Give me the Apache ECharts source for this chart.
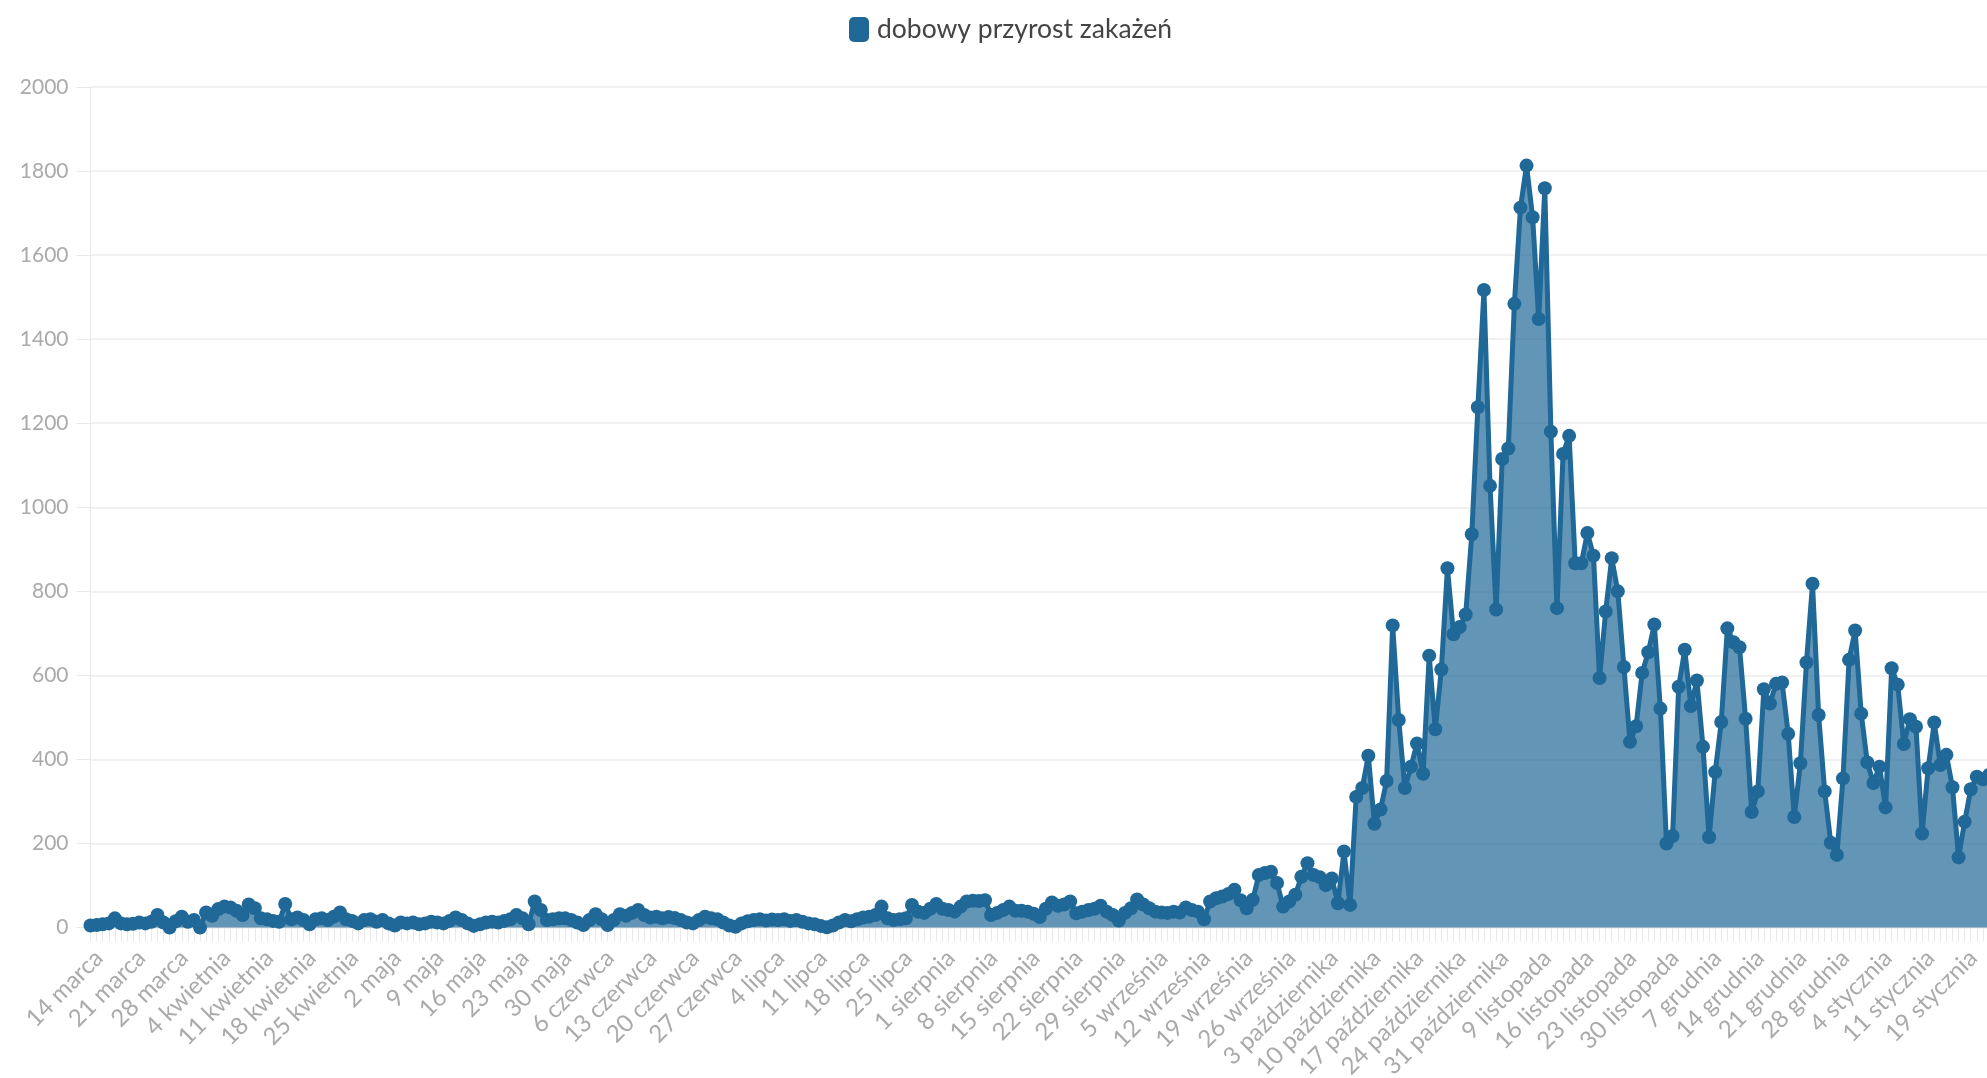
<!DOCTYPE html>
<html>
<head>
<meta charset="utf-8">
<title>dobowy przyrost zakażeń</title>
<script src="https://cdn.jsdelivr.net/npm/echarts@6/dist/echarts.min.js"></script>
<style>
    html, body { margin: 0; padding: 0; background: #fff; }
    #chart { width: 1987px; height: 1078px; }
</style>
</head>
<body>
<div id="chart"></div>
<script>
    // kolejne dni: [miesiąc, od dnia, do dnia] - w danych brakuje 1-2 listopada i 17 stycznia
    const daySegments = [
        ['marca', 14, 31],
        ['kwietnia', 1, 30],
        ['maja', 1, 31],
        ['czerwca', 1, 30],
        ['lipca', 1, 31],
        ['sierpnia', 1, 31],
        ['września', 1, 30],
        ['października', 1, 31],
        ['listopada', 3, 30],
        ['grudnia', 1, 31],
        ['stycznia', 1, 16],
        ['stycznia', 18, 23]
    ]
    const seriesName = 'dobowy przyrost zakażeń'
    // marzec - maj
    const casesSpring = [
        5, 6, 8, 10, 22, 10, 8, 9, 12, 10,
        14, 30, 12, 0, 15, 26, 14, 18, 0, 36,
        28, 44, 50, 48, 40, 30, 55, 46, 22, 20,
        16, 14, 56, 20, 24, 18, 8, 20, 22, 18,
        26, 36, 20, 16, 10, 18, 20, 14, 18, 10,
        5, 12, 10, 12, 8, 10, 14, 12, 10, 16,
        24, 18, 10, 4, 8, 12, 14, 12, 16, 20,
        30, 22, 8, 62, 42, 18
    ]
    // czerwiec - połowa sierpnia
    const casesSummer = [
        20, 22, 22, 18, 12, 6, 18, 32, 20, 6,
        18, 32, 28, 35, 42, 30, 24, 26, 22, 25,
        23, 18, 12, 10, 18, 26, 22, 20, 12, 5,
        2, 10, 15, 18, 20, 17, 19, 18, 20, 16,
        18, 14, 10, 8, 4, 1, 5, 12, 18, 15,
        20, 24, 26, 30, 50, 22, 18, 20, 22, 54,
        38, 35, 45, 56, 45, 42, 38, 50, 62, 64,
        63, 65, 30, 35, 42, 50, 40
    ]
    // połowa sierpnia - początek października
    const casesAutumn = [
        40, 38, 33, 25, 45, 60, 52, 55, 62, 34,
        38, 42, 45, 52, 38, 30, 17, 35, 46, 67,
        55, 46, 38, 36, 35, 38, 36, 48, 42, 38,
        20, 62, 70, 74, 80, 90, 65, 46, 66, 125,
        130, 133, 106, 50, 62, 78, 121, 153, 125, 120,
        101, 117, 58, 181, 54, 311
    ]
    // druga fala: październik - listopad
    const casesWave = [
        332, 409, 247, 281, 349, 719, 494, 332, 383, 438,
        366, 647, 472, 614, 855, 698, 715, 745, 936, 1238,
        1517, 1051, 757, 1115, 1140, 1484, 1713, 1813, 1690, 1448,
        1759, 1180, 760, 1127, 1170, 867, 867, 939, 885, 594,
        752, 879, 800, 620, 442, 479, 606, 655, 721, 521,
        200, 218, 573, 661, 527, 588, 430, 215, 370, 489,
        712, 679, 667, 497, 275, 324, 567, 533, 580
    ]
    // koniec grudnia - styczeń
    const casesWinter = [
        583, 461, 263, 391, 631, 818, 506, 324, 202, 173,
        355, 637, 707, 509, 393, 344, 383, 286, 617, 578,
        437, 496, 478, 224, 379, 488, 387, 411, 334, 167,
        252, 329, 359, 353, 363
    ]
    const yMin = 0
    const yMax = 2000
    const yInterval = 200

    const categories = []
    daySegments.forEach(([month, from, to]) => {
        for (let d = from; d <= to; d++) {
            categories.push(d + ' ' + month)
        }
    })
    const cases = [].concat(casesSpring, casesSummer, casesAutumn, casesWave, casesWinter)

    const lineColor = '#1f6897'
    const labelColor = '#aaaaaa'
    const gridColor = '#e8e8e8'

    let chartInstance = echarts.init(document.getElementById('chart'))
    const option = {
        animation: false,
        textStyle: {
            fontFamily: 'Lato, "Open Sans", sans-serif'
        },
        legend: {
            data: [seriesName],
            left: 844,
            top: 11,
            icon: 'roundRect',
            itemWidth: 20,
            itemHeight: 25,
            textStyle: {
                fontSize: 26.5,
                color: '#444',
                padding: [0, 0, 0, 3]
            }
        },
        grid: {
            left: 90.5,
            right: -2,
            top: 87,
            bottom: 150.4,
            containLabel: false,
            outerBoundsMode: 'none'
        },
        xAxis: {
            type: 'category',
            data: categories,
            boundaryGap: false,
            axisLine: {
                show: true,
                lineStyle: { color: gridColor }
            },
            axisTick: {
                show: true,
                interval: 0,
                length: 14,
                lineStyle: { color: gridColor }
            },
            axisLabel: {
                interval: 6,
                rotate: 45,
                fontSize: 24,
                color: labelColor,
                verticalAlign: 'top',
                margin: 18
            },
            splitLine: { show: false }
        },
        yAxis: {
            type: 'value',
            min: yMin,
            max: yMax,
            interval: yInterval,
            axisLine: {
                show: true,
                lineStyle: { color: gridColor }
            },
            axisTick: {
                show: true,
                length: 14,
                lineStyle: { color: gridColor }
            },
            axisLabel: {
                fontSize: 21,
                color: labelColor,
                margin: 22,
                formatter: (value) => String(value)
            },
            splitLine: {
                lineStyle: { color: '#ececec', width: 1.5 }
            }
        },
        series: [{
            name: seriesName,
            type: 'line',
            data: cases,
            symbol: 'circle',
            symbolSize: 14,
            showAllSymbol: true,
            itemStyle: { color: lineColor },
            lineStyle: { color: lineColor, width: 5 },
            areaStyle: { color: lineColor, opacity: 0.7 }
        }]
    }
    chartInstance.setOption(option)
</script>
</body>
</html>
